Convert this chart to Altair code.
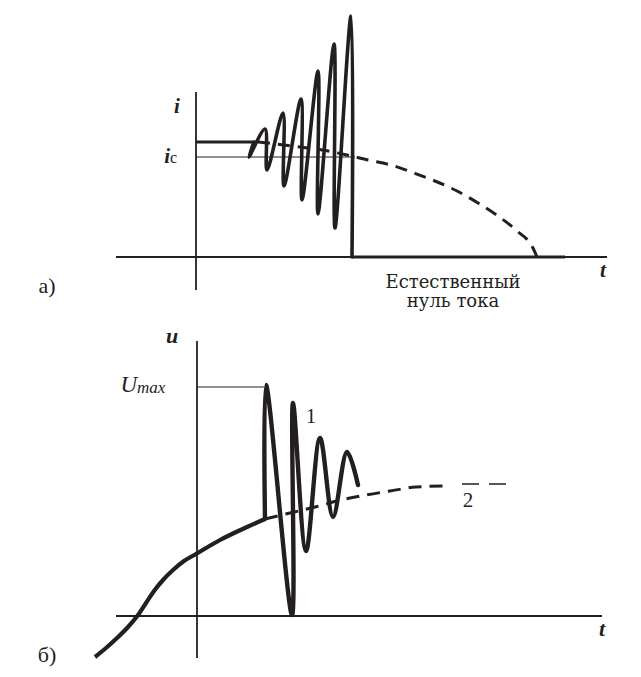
import altair as alt
import pandas as pd

INK = "#231f20"
SERIF = "Liberation Serif, Times New Roman, serif"

# ---------------- panel a) : current i(t) ----------------
a_flat_t = [0, 5.8]
a_flat_i = [11.5, 11.5]

a_wave_t = [5.8, 5.3, 6.9, 7.1, 8.7, 8.8, 10.5, 10.6, 12.2, 12.2, 13.8, 13.9, 15.5, 15.6]
a_wave_i = [11.5, 10.0, 12.8, 8.7, 14.4, 7.1, 15.8, 5.7, 18.6, 4.3, 21.3, 2.9, 24.1, 0]

a_zero_t = [15.6, 36.9]
a_zero_i = [0, 0]

a_dash_t = [6.2, 8.0, 10.4, 12.6, 15.1, 17.2, 19.5, 21.8, 23.9, 26.1, 28.2, 30.2, 32.1, 33.7, 34.1]
a_dash_i = [11.5, 11.3, 11.0, 10.7, 10.2, 9.7, 9.2, 8.4, 7.6, 6.6, 5.4, 4.1, 2.6, 0.9, 0]

a_ic_level = 10.0
a_ic_end = 15.9

# ---------------- panel б) : voltage u(t) ----------------
b_arc_t = [-10.1, -9.0, -7.9, -6.8, -5.8, -5.0, -4.2, -3.3, -2.3, -1.2, 0.0, 2.4, 5.1, 6.9]
b_arc_u = [-4.1, -3.2, -2.2, -1.1, 0.1, 1.3, 2.5, 3.6, 4.6, 5.5, 6.2, 7.6, 8.9, 9.7]

b_osc_t = [6.9, 7.0, 9.6, 9.7, 11.0, 12.4, 13.7, 15.1, 16.2]
b_osc_u = [9.7, 23.1, 0.1, 21.3, 6.5, 17.8, 9.9, 16.4, 13.1]

b_dash_t = [6.9, 9.4, 11.9, 14.5, 17.0, 19.4, 22.0, 25.0]
b_dash_u = [9.7, 10.3, 10.9, 11.6, 12.1, 12.5, 12.9, 13.0]
b_thin_t = [26.6, 31.4]
b_thin_u = [13.2, 13.2]

b_umax = 22.9
b_umax_end = 6.8

# ---------------- scales ----------------
X_DOM = [-18.8, 43.7]
A_DOM = [-5.6, 24.9]
B_DOM = [-5.2, 30.3]
W = 625
HA = 305
HB = 355


def xenc(field="t"):
    return alt.X(f"{field}:Q", scale=alt.Scale(domain=X_DOM, nice=False, zero=False), axis=None)


def yenc(dom, field="v"):
    return alt.Y(f"{field}:Q", scale=alt.Scale(domain=dom, nice=False, zero=False), axis=None)


def line_layer(ts, vs, dom, width, dash=None, interp="linear", cap="butt"):
    df = pd.DataFrame({"t": ts, "v": vs, "k": list(range(len(ts)))})
    kw = dict(color=INK, strokeWidth=width, strokeJoin="round", strokeCap=cap, interpolate=interp)
    if dash:
        kw["strokeDash"] = dash
    return alt.Chart(df).mark_line(**kw).encode(
        x=xenc(), y=yenc(dom), order=alt.Order("k:Q")
    )


def rule_layer(rows, dom, width):
    df = pd.DataFrame(rows, columns=["t", "t2", "v", "v2"])
    return alt.Chart(df).mark_rule(color=INK, strokeWidth=width).encode(
        x=xenc(), x2="t2:Q", y=yenc(dom), y2="v2:Q"
    )


def text_layer(rows, dom, size, font=SERIF, style="normal", weight="normal", align="center", **extra):
    df = pd.DataFrame(rows, columns=["t", "v", "s"])
    return alt.Chart(df).mark_text(
        font=font, fontSize=size, fontStyle=style, fontWeight=weight,
        align=align, baseline="alphabetic", color=INK, **extra
    ).encode(x=xenc(), y=yenc(dom), text="s:N")


# panel a
a_axes = rule_layer([[0, 0, 16.5, -3.3], [-8.0, 41.1, 0, 0]], A_DOM, 1.8)
a_ic = rule_layer([[0, a_ic_end, a_ic_level, a_ic_level]], A_DOM, 1.2)
a_dash = line_layer(a_dash_t, a_dash_i, A_DOM, 3, dash=[12, 8], interp="monotone")
a_flat = line_layer(a_flat_t, a_flat_i, A_DOM, 3.2)
a_wave = line_layer(a_wave_t, a_wave_i, A_DOM, 3.6, interp="catmull-rom", cap="round")
a_zero = line_layer(a_zero_t, a_zero_i, A_DOM, 3.2)
a_lbl_bi = text_layer([[-1.9, 14.4, "i"], [40.7, -2.0, "t"]], A_DOM, 21, style="italic", weight="bold")
a_lbl_ic = text_layer([[-2.6, 9.4, "i"]], A_DOM, 21, style="italic", weight="bold", align="right")
a_lbl_c = text_layer([[-2.6, 9.4, "c"]], A_DOM, 16, align="left")
a_lbl_a = text_layer([[-14.9, -3.6, "а)"]], A_DOM, 22)
a_note = text_layer([[25.7, -3.1, "Естественный\nнуль тока"]], A_DOM, 18, font="DejaVu Serif",
                    lineBreak="\n", lineHeight=19)

panel_a = alt.layer(
    a_axes, a_ic, a_dash, a_flat, a_wave, a_zero, a_lbl_bi, a_lbl_ic, a_lbl_c, a_lbl_a, a_note
).properties(width=W, height=HA)

# panel б
b_axes = rule_layer([[0.1, 0.1, 27.5, -4.2], [-8.0, 40.6, 0, 0]], B_DOM, 1.8)
b_um = rule_layer([[0.1, b_umax_end, b_umax, b_umax]], B_DOM, 1.2)
b_dash = line_layer(b_dash_t, b_dash_u, B_DOM, 3, dash=[13, 8], interp="monotone")
b_thin = line_layer(b_thin_t, b_thin_u, B_DOM, 1.3, dash=[17, 10])
b_arc = line_layer(b_arc_t, b_arc_u, B_DOM, 4.2, interp="monotone")
b_osc = line_layer(b_osc_t, b_osc_u, B_DOM, 4.4, interp="catmull-rom", cap="round")
b_lbl_bi = text_layer([[-2.4, 27.3, "u"], [40.6, -2.0, "t"]], B_DOM, 22, style="italic", weight="bold")
b_lbl_U = text_layer([[-5.9, 22.4, "U"]], B_DOM, 23, style="italic", align="right")
b_lbl_max = text_layer([[-5.9, 22.3, "max"]], B_DOM, 17, style="italic", align="left")
b_lbl_n = text_layer([[11.5, 19.3, "1"], [27.2, 10.9, "2"]], B_DOM, 21)
b_lbl_b = text_layer([[-14.9, -4.6, "б)"]], B_DOM, 22)

panel_b = alt.layer(
    b_axes, b_um, b_dash, b_thin, b_arc, b_osc, b_lbl_bi, b_lbl_U, b_lbl_max, b_lbl_n, b_lbl_b
).properties(width=W, height=HB)

chart = alt.vconcat(panel_a, panel_b, spacing=0, bounds="flush").properties(
    padding=0, background="white"
).configure_view(stroke=None)

chart.save("out.html", embed_options={"renderer": "svg", "actions": False})
